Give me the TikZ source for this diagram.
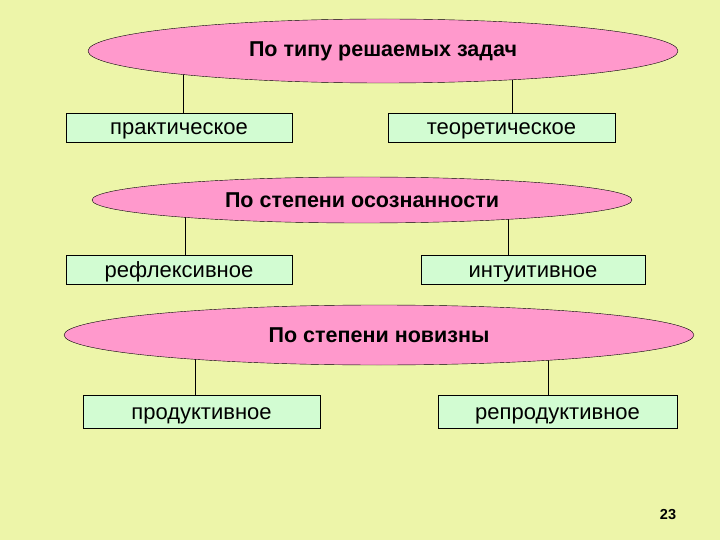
\documentclass[tikz,border=0pt]{standalone}
\usepackage{fontspec}
\setmainfont{Liberation Sans}
\usepackage{xcolor}
\usetikzlibrary{positioning,shapes.geometric,backgrounds}

\definecolor{slidebg}{HTML}{EDF5A9}
\definecolor{ovalpink}{HTML}{FF99CC}
\definecolor{boxmint}{HTML}{D2FCD2}

\begin{document}
\begin{tikzpicture}[x=1pt, y=-1pt,
    oval/.style={draw, ellipse, fill=ovalpink, inner sep=0pt, font=\fontsize{21.5}{24}\selectfont\bfseries},
    kind/.style={draw, fill=boxmint, minimum height=29pt, inner sep=0pt, text height=17pt, text depth=2pt, font=\fontsize{22}{24}\selectfont},
    link/.style={draw, line width=0.6pt}]
    \useasboundingbox (0,0) rectangle (720,540);
    % first criterion
    \node (type) [oval, minimum width=590pt, minimum height=64pt] at (383,51) {По типу решаемых задач};
    \node (prak) [kind, minimum width=226pt] at (179,127.5) {практическое};
    \node (teor) [kind, minimum width=227pt] at (501.5,127.5) {теоретическое};
    % second criterion
    \node (aware) [oval, minimum width=540pt, minimum height=46pt] at (362,200) {По степени осознанности};
    \node (refl) [kind, minimum width=226pt] at (179,269.5) {рефлексивное};
    \node (intu) [kind, minimum width=224pt] at (533,269.5) {интуитивное};
    % third criterion
    \node (novel) [oval, minimum width=630pt, minimum height=60pt] at (379,335) {По степени новизны};
    \node (prod) [kind, minimum width=237pt, minimum height=33pt] at (201.5,411.5) {продуктивное};
    \node (repr) [kind, minimum width=239pt, minimum height=33pt] at (557.5,411.5) {репродуктивное};
    \node (page) at (668,515) {\fontsize{14.5}{17}\selectfont\bfseries 23};
    \begin{pgfonlayer}{background}
        \fill[slidebg] (0,0) rectangle (720,540);
        \draw[link] ([xshift=4pt]prak.north) -- ([xshift=4pt]prak.north |- type.center);
        \draw[link] ([xshift=11pt]teor.north) -- ([xshift=11pt]teor.north |- type.center);
        \draw[link] ([xshift=6pt]refl.north) -- ([xshift=6pt]refl.north |- aware.center);
        \draw[link] ([xshift=-25pt]intu.north) -- ([xshift=-25pt]intu.north |- aware.center);
        \draw[link] ([xshift=-6pt]prod.north) -- ([xshift=-6pt]prod.north |- novel.center);
        \draw[link] ([xshift=-9pt]repr.north) -- ([xshift=-9pt]repr.north |- novel.center);
    \end{pgfonlayer}
\end{tikzpicture}
\end{document}
